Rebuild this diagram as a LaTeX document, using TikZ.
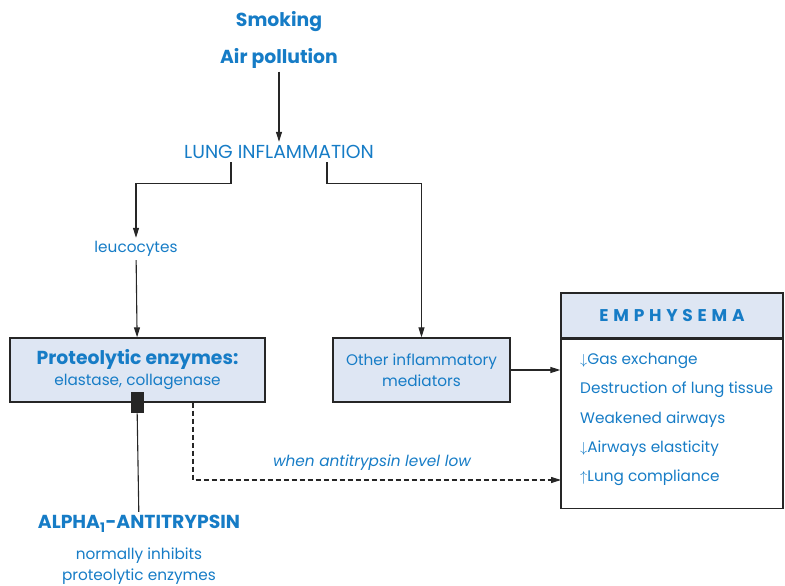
\documentclass[tikz,border=0pt]{standalone}
\usepackage{fontspec}
\setmainfont{Poppins}
\usetikzlibrary{arrows.meta}

\definecolor{txtblue}{RGB}{22,124,198}
\definecolor{boxfill}{RGB}{222,230,243}
\definecolor{linegray}{RGB}{38,38,38}

\tikzset{
  lbl/.style={text=txtblue, font=\fontsize{15.3}{21}\selectfont},
  capslbl/.style={text=txtblue, font=\fontsize{18.8}{21}\selectfont},
  head/.style={text=txtblue, font=\bfseries\fontsize{18.8}{21}\selectfont},
  flow/.style={draw=linegray, line width=1.1pt, -{Triangle[length=10pt,width=6pt]}},
  plain/.style={draw=linegray, line width=1.1pt},
  panel/.style={draw=linegray, line width=1.3pt, fill=boxfill},
}

\begin{document}
\begin{tikzpicture}[x=1pt,y=-1pt]
  \useasboundingbox (0,0) rectangle (785,586);

  % causes and inflammation
  \node[head] (smoke) at (279,22) {Smoking};
  \node[head] (air) at (279,58) {Air pollution};
  \node[capslbl] (lung) at (279,152) {LUNG INFLAMMATION};
  \draw[flow] (air) -- (lung);

  % the two branches
  \node[lbl] (leuco) at (136,249) {leucocytes};
  \node[panel, lbl, minimum width=255pt, minimum height=64pt, align=center] (prot) at (137.5,370)
    {{\bfseries\fontsize{18.8}{21}\selectfont Proteolytic enzymes:}\\elastase, collagenase};
  \node[panel, lbl, minimum width=177pt, minimum height=64pt, align=center] (other) at (421.5,370)
    {Other inflammatory\\mediators};
  \draw[flow] ([xshift=-48pt]lung.south) -- ++(0,21) -| (leuco);
  \draw[flow] ([xshift=48pt]lung.south) -- ++(0,21) -| (other);
  \draw[flow] (leuco) -- (prot);

  % emphysema box
  \node[panel, line width=2pt, minimum width=222pt, minimum height=45pt, text=txtblue,
        font=\bfseries\fontsize{17}{21}\selectfont\addfontfeature{LetterSpace=28}] (emhead) at (672,315.5) {EMPHYSEMA};
  \node[draw=linegray, line width=1.3pt, minimum width=222pt, minimum height=169pt, anchor=north] (embody) at (emhead.south) {};
  \node[lbl, font=\fontsize{15.3}{29.3}\selectfont, align=left, anchor=north west, inner sep=0pt] (emlist) at (580,353)
    {$\downarrow$Gas exchange\\Destruction of lung tissue\\Weakened airways\\$\downarrow$Airways elasticity\\$\uparrow$Lung compliance};
  \draw[flow] (other.east) -- (other.east -| embody.west);

  % low antitrypsin path
  \coordinate (lowend) at (561,480);
  \draw[flow, dash pattern=on 5pt off 3pt] ([xshift=55.5pt]prot.south) |- (lowend);
  \node[lbl, font=\itshape\fontsize{15.3}{21}\selectfont] (lowtxt) at (372,463) {when antitrypsin level low};

  % inhibitor
  \node[fill=linegray, minimum width=13pt, minimum height=21pt, inner sep=0pt, anchor=north] (block) at (137,392) {};
  \node[head] (alpha) at (139,524) {ALPHA\textsubscript{1}-ANTITRYPSIN};
  \node[lbl, align=center] (alphatxt) at (139,566) {normally inhibits\\proteolytic enzymes};
  \draw[plain] (block) -- (alpha);
\end{tikzpicture}
\end{document}
